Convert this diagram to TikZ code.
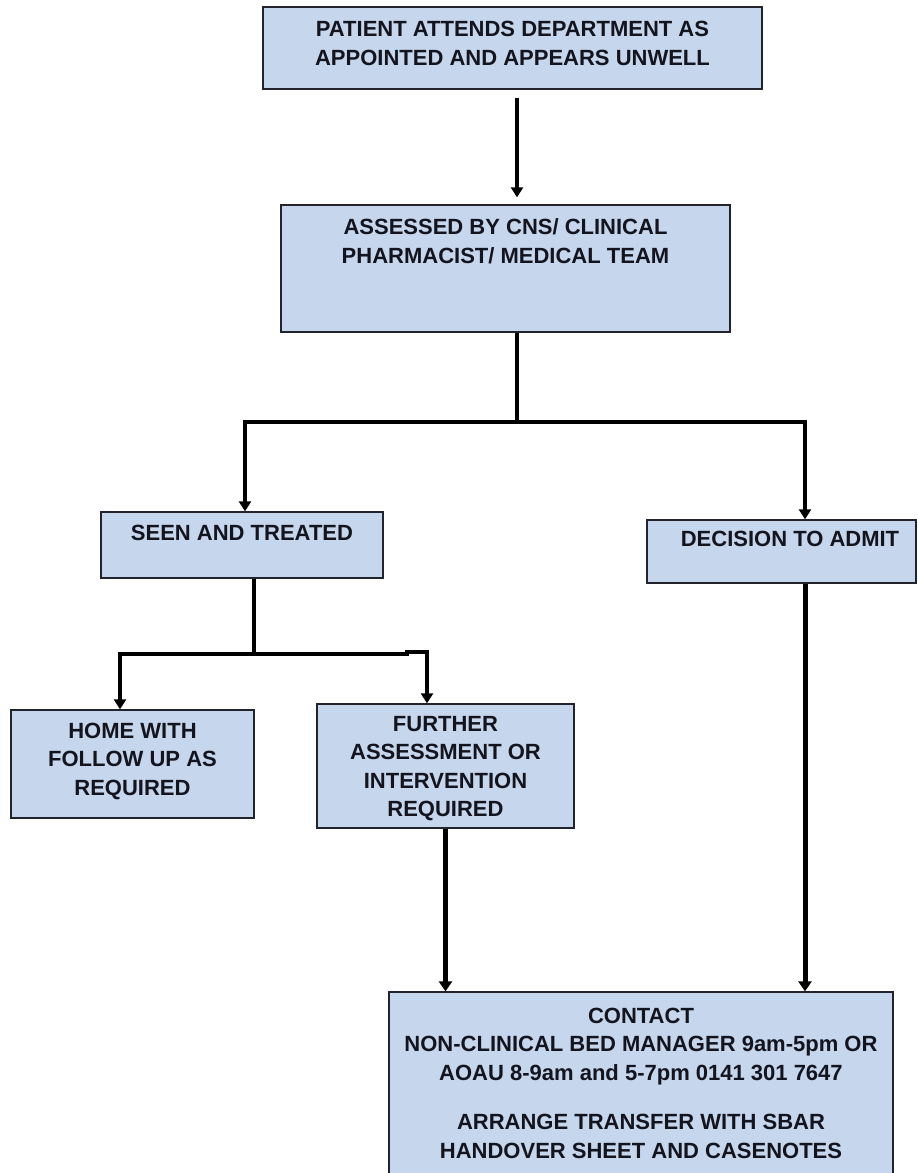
\documentclass[tikz,border=0pt]{standalone}
\usepackage{fontspec}
\setmainfont{Liberation Sans}
\usetikzlibrary{arrows.meta}
\definecolor{boxfill}{RGB}{197,214,237}
\definecolor{boxline}{RGB}{35,35,45}
\definecolor{txt}{RGB}{20,20,30}
\newcommand{\bxt}[4]{\parbox[c][#2pt][t]{#1pt}{\centering\vspace*{#3pt}#4\par}}
\begin{document}
\begin{tikzpicture}[x=1pt,y=-1pt,
  every node/.style={font=\fontsize{22pt}{28.5pt}\selectfont\bfseries, text=txt},
  flowbox/.style={draw=boxline, fill=boxfill, line width=1.3pt, inner sep=0pt},
  ln/.style={line width=3.5pt, draw=black},
  arr/.style={ln, -{Triangle[width=12pt,length=10pt]}},
  arrthick/.style={line width=5pt, draw=black, -{Triangle[width=13pt,length=10pt]}}]
\useasboundingbox (0,0) rectangle (918,1173);
\fill[white] (0,0) rectangle (918,1173);

\node[flowbox] (b1) at (512.5,48) {\bxt{499}{82}{14.5}{PATIENT ATTENDS DEPARTMENT AS\\APPOINTED AND APPEARS UNWELL}};
\node[flowbox] (b2) at (505.5,268.5) {\bxt{449}{127}{14}{ASSESSED BY CNS/ CLINICAL\\PHARMACIST/ MEDICAL TEAM}};
\node[flowbox] (b3) at (242,545) {\bxt{282}{66}{13}{SEEN AND TREATED}};
\node[flowbox] (b4) at (781.5,551.5) {\bxt{269}{63}{11}{\hspace*{17pt}DECISION TO ADMIT}};
\node[flowbox] (b5) at (132.5,764) {\bxt{243}{108}{13}{HOME WITH\\FOLLOW UP AS\\REQUIRED}};
\node[flowbox] (b6) at (445.5,766) {\bxt{257}{124}{12}{FURTHER\\ASSESSMENT OR\\INTERVENTION\\REQUIRED}};
\node[flowbox] (b7) at (641,1086) {\bxt{504}{188}{16}{CONTACT\\NON-CLINICAL BED MANAGER 9am-5pm OR\\AOAU 8-9am and 5-7pm 0141 301 7647\\[21pt]ARRANGE TRANSFER WITH SBAR\\HANDOVER SHEET AND CASENOTES}};

\coordinate (j1) at (517,422);
\coordinate (jl) at (245,422);
\coordinate (jr) at (805,422);
\coordinate (j2) at (254,654);
\coordinate (j2l) at (120,654);
\coordinate (j2m) at (407,654);
\coordinate (j2r) at (427,652);

\draw[arr, shorten <=8pt, shorten >=7pt] (b1.south -| j1) -- (b2.north -| j1);
\draw[ln] (b2.south -| j1) -- (j1);
\draw[arr] (j1) -- (jl) -- (jl |- b3.north);
\draw[arr] (j1) -- (jr) -- (jr |- b4.north);
\draw[ln] (b3.south -| j2) -- (j2);
\draw[arr] (j2) -- (j2l) -- (j2l |- b5.north);
\draw[arr] (j2) -- (j2m) -- (j2m |- j2r) -- (j2r) -- (j2r |- b6.north);
\draw[arrthick] (b6.south) -- (b6.south |- b7.north);
\draw[arrthick] (b4.south -| jr) -- (b7.north -| jr);
\end{tikzpicture}
\end{document}
